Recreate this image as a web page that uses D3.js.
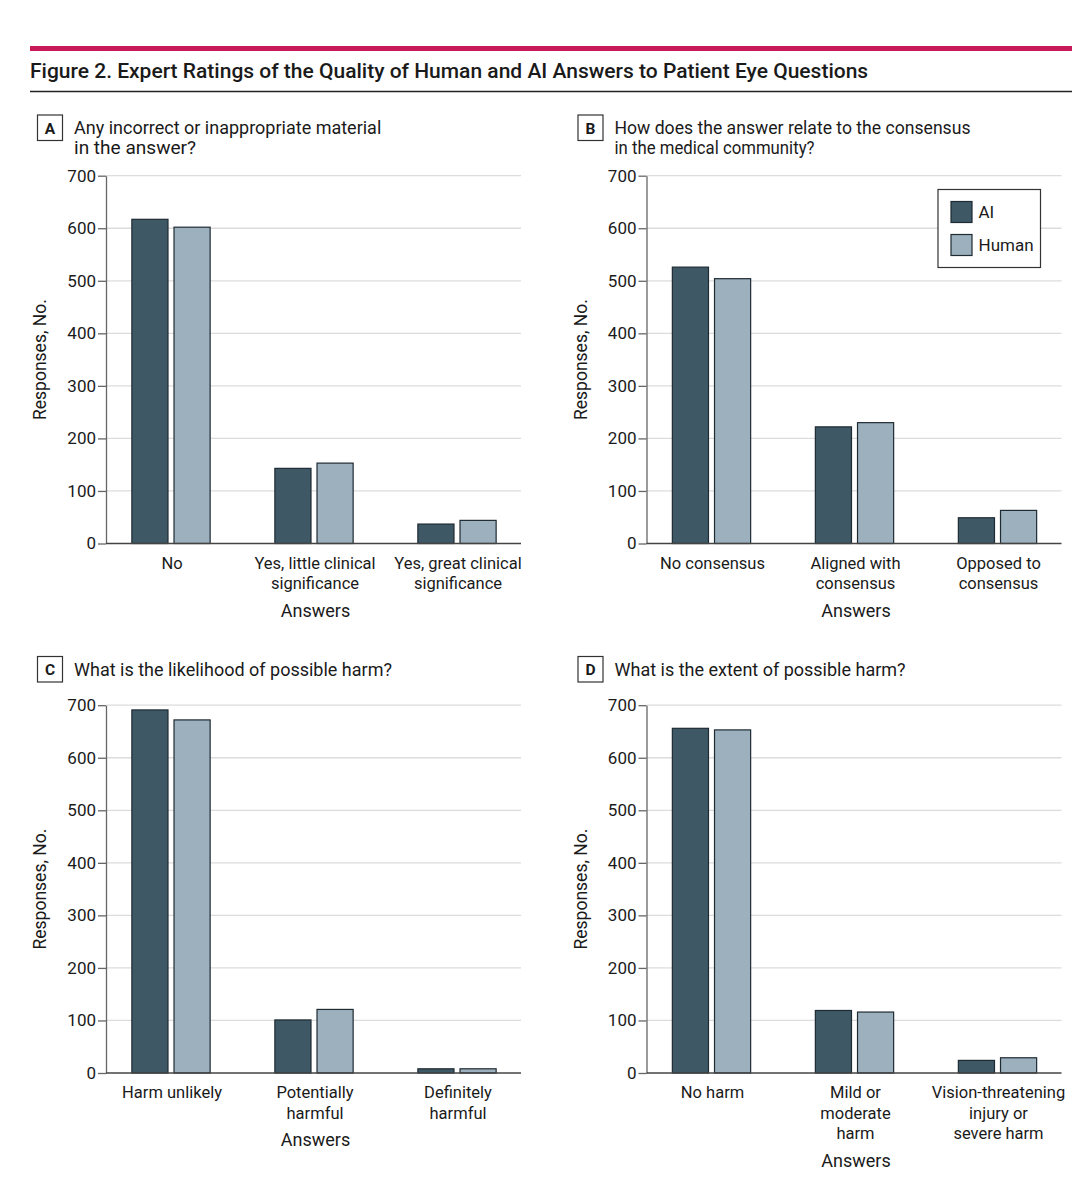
<!DOCTYPE html>
<html>
<head>
<meta charset="utf-8">
<script src="https://cdn.jsdelivr.net/npm/d3@7"></script>
<style>
  html, body { margin: 0; padding: 0; background: #fff; }
  svg text { font-family: Roboto, "Noto Sans", sans-serif; fill: #1a1a1a; }
</style>
</head>
<body>
<svg id="chart" width="1077" height="1200"></svg>
<script>
// ---------------- DATA ----------------
const seriesNames = ["AI", "Human"];
const yTicks = [0, 100, 200, 300, 400, 500, 600, 700];

const titleText = "Figure 2. Expert Ratings of the Quality of Human and AI Answers to Patient Eye Questions";

const panelLetters = ["A", "B", "C", "D"];
const panelQuestions = [
  ["Any incorrect or inappropriate material", "in the answer?"],
  ["How does the answer relate to the consensus", "in the medical community?"],
  ["What is the likelihood of possible harm?"],
  ["What is the extent of possible harm?"]
];

const categoriesA = [["No"], ["Yes, little clinical", "significance"], ["Yes, great clinical", "significance"]];
const categoriesB = [["No consensus"], ["Aligned with", "consensus"], ["Opposed to", "consensus"]];
const categoriesC = [["Harm unlikely"], ["Potentially", "harmful"], ["Definitely", "harmful"]];
const categoriesD = [["No harm"], ["Mild or", "moderate", "harm"], ["Vision-threatening", "injury or", "severe harm"]];

const aiA = [617, 143, 37];
const humanA = [602, 153, 44];
const aiB = [526, 222, 49];
const humanB = [504, 230, 63];
const aiC = [691, 101, 8];
const humanC = [672, 121, 8];
const aiD = [656, 119, 24];
const humanD = [653, 116, 29];

const yAxisLabel = "Responses, No.";
const xAxisLabel = "Answers";

// ---------------- STYLE ----------------
const colors = { AI: "#3e5866", Human: "#9cb0bd" };
const barStroke = "#1f2b33";

const svg = d3.select("#chart");

function fit(sel, w) {
  const L = sel.node().getComputedTextLength();
  if (Math.abs(L - w) / w > 0.015) sel.attr("textLength", w).attr("lengthAdjust", "spacingAndGlyphs");
}

// Header
svg.append("rect").attr("x", 30).attr("y", 46).attr("width", 1042).attr("height", 5).attr("fill", "#c8195a");
const title = svg.append("text").attr("x", 30).attr("y", 78).attr("font-size", 21).attr("font-weight", 500).text(titleText);
fit(title, 838);
svg.append("line").attr("x1", 30).attr("x2", 1072).attr("y1", 91.5).attr("y2", 91.5)
  .attr("stroke", "#222").attr("stroke-width", 1.5);

const panels = [
  { cats: categoriesA, ai: aiA, hu: humanA, dx: 0, dy: 0, hy: 0, qW: [310, 122] },
  { cats: categoriesB, ai: aiB, hu: humanB, dx: 540.5, dy: 0, hy: 0, qW: [356, 200] },
  { cats: categoriesC, ai: aiC, hu: humanC, dx: 0, dy: 529.5, hy: 541.5, qW: [314] },
  { cats: categoriesD, ai: aiD, hu: humanD, dx: 540.5, dy: 529.5, hy: 541.5, qW: [287] }
];

panels.forEach((p, i) => {
  const g = svg.append("g").attr("transform", `translate(${p.dx},0)`);
  // header box + question
  const hb = 115 + p.hy;
  g.append("rect").attr("x", 37.5).attr("y", hb).attr("width", 25).attr("height", 25.5)
    .attr("fill", "none").attr("stroke", "#333").attr("stroke-width", 1.2);
  g.append("text").attr("x", 50).attr("y", hb + 18.5).attr("text-anchor", "middle")
    .attr("font-size", 15.5).attr("font-weight", "bold").text(panelLetters[i]);
  panelQuestions[i].forEach((line, k) => {
    const t = g.append("text").attr("x", 74).attr("y", hb + 19 + k * 20).attr("font-size", 18).text(line);
    fit(t, p.qW[k]);
  });

  const y0 = 543.5 + p.dy, y1 = 175.7 + p.dy;
  const axisX = 106, plotRight = 521;
  const y = d3.scaleLinear().domain([0, 700]).range([y0, y1]);
  const cats = p.cats.map(c => c.join(" "));
  const x = d3.scaleBand().domain(cats).range([99.5, 528.5]).paddingInner(0.4526).paddingOuter(0.2263);
  const xs = d3.scaleBand().domain(seriesNames).range([0, x.bandwidth()]).paddingInner(0.1429);

  // gridlines
  g.append("g").selectAll("line").data(yTicks.filter(v => v > 0)).join("line")
    .attr("x1", axisX).attr("x2", plotRight)
    .attr("y1", d => y(d)).attr("y2", d => y(d))
    .attr("stroke", "#dcdcdc").attr("stroke-width", 1.3);

  // y axis
  const ya = g.append("g").attr("transform", `translate(${axisX},0)`)
    .call(d3.axisLeft(y).tickValues(yTicks).tickSize(8).tickSizeOuter(0).tickPadding(2));
  ya.select(".domain").attr("stroke", "#666").attr("stroke-width", 1.3);
  ya.selectAll(".tick line").attr("stroke", "#666").attr("stroke-width", 1.3);
  ya.selectAll(".tick text").attr("font-size", 17).attr("fill", "#222")
    .style("font-family", "Roboto, sans-serif");

  // bars
  const rows = cats.map((c, j) => ({ c, vals: [{ s: "AI", v: p.ai[j] }, { s: "Human", v: p.hu[j] }] }));
  g.append("g").selectAll("g").data(rows).join("g")
    .attr("transform", d => `translate(${x(d.c)},0)`)
    .selectAll("rect").data(d => d.vals).join("rect")
    .attr("x", d => xs(d.s)).attr("width", xs.bandwidth())
    .attr("y", d => y(d.v)).attr("height", d => y0 - y(d.v))
    .attr("fill", d => colors[d.s]).attr("stroke", barStroke).attr("stroke-width", 1.2);

  // x baseline
  g.append("line").attr("x1", axisX).attr("x2", plotRight).attr("y1", y0).attr("y2", y0)
    .attr("stroke", "#444").attr("stroke-width", 1.4);

  // category labels
  let maxLines = 0;
  p.cats.forEach((lines, j) => {
    maxLines = Math.max(maxLines, lines.length);
    lines.forEach((ln, k) => {
      g.append("text").attr("x", x(cats[j]) + x.bandwidth() / 2 + 1).attr("y", y0 + 25 + k * 20.5)
        .attr("text-anchor", "middle").attr("font-size", 16.5).text(ln);
    });
  });
  g.append("text").attr("x", (axisX + plotRight) / 2 + 2).attr("y", y0 + 25 + (maxLines - 1) * 20.5 + 27.5)
    .attr("text-anchor", "middle").attr("font-size", 18).text(xAxisLabel);

  // y label
  g.append("text").attr("transform", `translate(46,${(y0 + y1) / 2}) rotate(-90)`)
    .attr("text-anchor", "middle").attr("font-size", 17.5).text(yAxisLabel);

  // legend in panel B
  if (i === 1) {
    const lg = g.append("g").attr("transform", "translate(397.5,189.5)");
    lg.append("rect").attr("width", 102.5).attr("height", 78)
      .attr("fill", "#fff").attr("stroke", "#333").attr("stroke-width", 1.2);
    seriesNames.forEach((s, k) => {
      lg.append("rect").attr("x", 13).attr("y", 12 + k * 33).attr("width", 21).attr("height", 21)
        .attr("fill", colors[s]).attr("stroke", barStroke).attr("stroke-width", 1.2);
      lg.append("text").attr("x", 40.5).attr("y", 28.5 + k * 33).attr("font-size", 17).text(s);
    });
  }
});
</script>
</body>
</html>
